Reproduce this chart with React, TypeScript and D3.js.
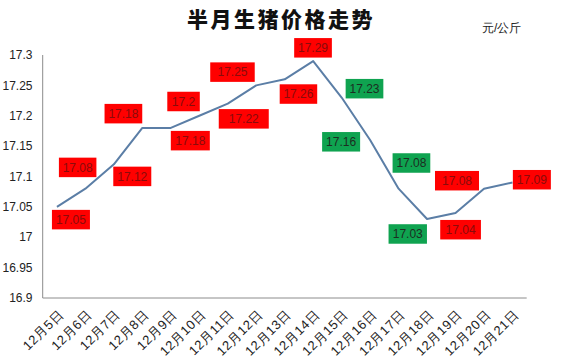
import React from "react";
import * as d3 from "d3";

const dates = ["12月5日","12月6日","12月7日","12月8日","12月9日","12月10日","12月11日","12月12日","12月13日","12月14日","12月15日","12月16日","12月17日","12月18日","12月19日","12月20日","12月21日"];
const prices = [17.05,17.08,17.12,17.18,17.18,17.2,17.22,17.25,17.26,17.29,17.23,17.16,17.08,17.03,17.04,17.08,17.09];
const yTicks = [16.9,16.95,17,17.05,17.1,17.15,17.2,17.25,17.3];
const title = "半月生猪价格走势";
const unit = "元/公斤";

// label box placement relative to each point: [dx, dy, width]
const labelLayout: [number, number, number][] = [
  [-5, 3, 38],[-26.5, -31, 37.5],[-0.6, 2.3, 38],[-37.8, -24, 37.7],[0, 3, 39],
  [-32, -24, 32.5],[-9, 5.5, 50],[-46, -23, 44.5],[-5, 5, 37.5],[-19, -23, 37.7],
  [4, -18.6, 37.7],[-48, -8, 38],[-6, -35.4, 37.7],[-38.5, 5.2, 38.4],[-15.3, 7, 40.7],
  [-49, -17.7, 44],[0.4, -12.6, 38],
];

export default function App() {
  const W = 562, H = 363;
  const x = d3.scaleBand<string>().domain(dates).range([42.7, 526.7]);
  const y = d3.scaleLinear().domain([16.9, 17.3]).range([298, 55]);
  const cx = (d: string) => (x(d) as number) + x.bandwidth() / 2;
  const line = d3.line<number>().x((_, i) => cx(dates[i])).y(v => y(v));
  const fmt = (v: number) => String(+v.toFixed(2));
  const font = "'Liberation Sans', Arial, sans-serif";
  return (
    <svg width={W} height={H} style={{ position: "absolute", left: 0, top: 0, background: "#fff" }}>
      <text x={281} y={27} textAnchor="middle" fontFamily="'Noto Sans CJK SC', serif" fontWeight={900} fontSize={21} letterSpacing={2.5} fill="#111">{title}</text>
      <text x={482} y={32} fontFamily={font} fontSize={12} fill="#222">{unit}</text>
      {/* axes */}
      <line x1={42.7} x2={42.7} y1={55} y2={298} stroke="#8c8c8c" strokeWidth={1} />
      <line x1={42.7} x2={526.7} y1={298} y2={298} stroke="#8c8c8c" strokeWidth={1} />
      {yTicks.map(t => (
        <text key={t} x={32.5} y={y(t)} dy="0.35em" textAnchor="end" fontFamily={font} fontSize={12} fill="#222">{fmt(t)}</text>
      ))}
      {dates.map(d => (
        <text key={d} transform={`translate(${cx(d) + 4},${312}) rotate(-45)`} textAnchor="end" dy="0.35em" fontFamily={font} fontSize={13} letterSpacing={0.6} fill="#222">{d}</text>
      ))}
      <path d={line(prices) as string} fill="none" stroke="#5b7ea6" strokeWidth={2} strokeLinejoin="round" />
      {prices.map((v, i) => {
        const [dx, dy, w] = labelLayout[i];
        const px = cx(dates[i]), py = y(v);
        const falling = i > 0 && v < prices[i - 1];
        const bg = falling ? "#0fa350" : "#ff0000";
        const fg = falling ? "#1c2e22" : "#8a0b0b";
        return (
          <g key={i}>
            <rect x={px + dx} y={py + dy} width={w} height={19.5} fill={bg} />
            <text x={px + dx + w / 2} y={py + dy + 9.75} dy="0.35em" textAnchor="middle" fontFamily={font} fontSize={12} fill={fg}>{fmt(v)}</text>
          </g>
        );
      })}
    </svg>
  );
}
